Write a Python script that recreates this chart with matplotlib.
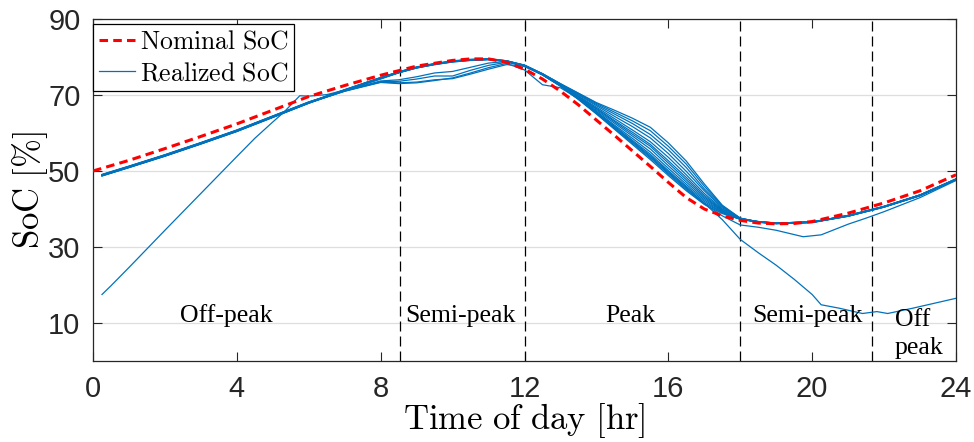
import matplotlib
matplotlib.use('Agg')
import matplotlib.pyplot as plt
from matplotlib.lines import Line2D

plt.rcParams['mathtext.fontset'] = 'cm'
plt.rcParams['font.family'] = ['Liberation Sans', 'DejaVu Sans']

# ---------------- data ----------------
hours_nom = [0, 1, 2, 3, 4, 5, 6, 7, 8, 9, 10, 10.5, 11, 11.5, 12, 12.5, 13, 13.5, 14, 14.5,
             15, 15.5, 16, 16.5, 17, 17.5, 18, 18.5, 19, 19.5, 20, 21, 22, 23, 24]
soc_nom = [50.0, 52.8, 55.9, 59.1, 62.4, 66.0, 69.6, 72.5, 75.2, 77.6, 79.1, 79.5, 79.5, 78.6, 76.8,
           74.2, 71.0, 67.4, 63.4, 59.4, 55.3, 51.2, 47.0, 43.0, 40.0, 38.2, 37.0, 36.3, 36.1, 36.2,
           36.7, 38.9, 41.6, 44.8, 49.0]

hours = [0.25, 1, 2, 3, 4, 5, 6, 7, 8, 8.5, 9, 9.5, 10, 10.5, 11, 11.5, 12, 12.5, 13, 13.5, 14,
         14.5, 15, 15.5, 16, 16.5, 17, 17.5, 18, 18.5, 19, 20, 21, 22, 23, 24]

run_a = [48.7, 50.9, 53.9, 57.1, 60.4, 64.1, 67.9, 71.1, 74.2, 75.8, 77.1, 78.0, 78.7, 79.1, 79.3, 78.8, 77.5,
         75.3, 72.3, 68.8, 65.0, 61.0, 57.0, 53.0, 48.8, 44.8, 41.2, 38.8, 37.3, 36.6, 36.2, 36.5, 38.1, 40.5, 43.5, 47.7]
run_b = [48.9, 51.1, 54.1, 57.3, 60.6, 64.3, 68.0, 71.2, 74.3, 75.9, 77.2, 78.1, 78.8, 79.2, 79.4, 78.9, 77.7,
         75.3, 72.4, 68.9, 65.3, 61.4, 57.6, 53.7, 49.5, 45.4, 41.6, 39.0, 37.3, 36.5, 36.2, 36.5, 38.2, 40.6, 43.6, 47.8]
run_c = [49.1, 51.3, 54.3, 57.5, 60.8, 64.5, 68.2, 71.1, 73.4, 73.2, 73.4, 74.0, 74.3, 75.5, 76.8, 78.0, 77.6,
         75.3, 72.4, 69.1, 65.5, 61.8, 58.1, 54.4, 50.1, 46.0, 42.0, 39.1, 37.3, 36.7, 36.3, 36.6, 38.3, 40.7, 43.7, 47.9]
run_d = [48.8, 51.0, 54.0, 57.2, 60.5, 64.2, 67.9, 71.3, 74.5, 76.0, 77.3, 78.2, 78.9, 79.3, 79.5, 79.0, 77.8,
         75.4, 72.5, 69.2, 65.7, 62.1, 58.6, 55.0, 50.7, 46.5, 42.4, 39.3, 37.4, 36.6, 36.3, 36.6, 38.2, 40.6, 43.7, 47.9]
run_e = [49.0, 51.2, 54.2, 57.4, 60.7, 64.4, 68.1, 71.4, 74.6, 76.1, 77.3, 78.2, 78.9, 79.3, 79.4, 78.9, 77.7,
         75.4, 72.5, 69.3, 66.0, 62.6, 59.2, 55.8, 51.4, 47.1, 42.8, 39.5, 37.4, 36.5, 36.1, 36.4, 38.1, 40.5, 43.5, 47.7]
run_f = [48.8, 51.0, 54.0, 57.2, 60.5, 64.2, 67.9, 71.0, 73.5, 73.6, 74.2, 75.0, 75.0, 76.5, 77.8, 78.6, 77.7,
         75.4, 72.6, 69.4, 66.3, 63.0, 59.7, 56.5, 52.1, 47.7, 43.2, 39.6, 37.4, 36.7, 36.3, 36.6, 38.3, 40.7, 43.7, 47.9]
run_g = [48.9, 51.1, 54.1, 57.3, 60.6, 64.3, 68.0, 71.3, 74.4, 75.9, 77.2, 78.1, 78.8, 79.2, 79.4, 78.9, 77.6,
         75.5, 72.6, 69.6, 66.5, 63.3, 60.2, 57.0, 52.7, 48.3, 43.6, 39.8, 37.4, 36.6, 36.2, 36.5, 38.2, 40.6, 43.6, 47.8]
run_h = [49.0, 51.2, 54.2, 57.4, 60.7, 64.4, 68.1, 71.2, 73.7, 74.0, 74.8, 75.8, 76.2, 77.3, 78.4, 78.8, 77.8,
         75.5, 72.7, 69.7, 66.8, 63.8, 60.8, 57.7, 53.6, 49.0, 44.1, 40.0, 37.5, 36.6, 36.2, 36.5, 38.2, 40.6, 43.6, 47.8]
run_i = [48.7, 50.9, 53.9, 57.1, 60.4, 64.1, 67.8, 71.2, 74.4, 75.9, 77.1, 78.0, 78.7, 79.1, 79.3, 78.9, 77.7,
         75.5, 72.8, 70.0, 67.2, 64.4, 61.7, 58.7, 54.6, 49.9, 44.8, 40.3, 37.5, 36.7, 36.3, 36.6, 38.3, 40.7, 43.7, 47.9]
run_j = [48.9, 51.1, 54.1, 57.3, 60.6, 64.3, 68.0, 71.4, 74.6, 76.1, 77.4, 78.3, 79.0, 79.4, 79.5, 79.0, 77.8,
         75.6, 72.9, 70.2, 67.5, 65.0, 62.5, 59.6, 55.6, 50.9, 45.3, 40.6, 37.5, 36.6, 36.2, 36.5, 38.2, 40.6, 43.6, 47.8]
run_k = [49.0, 51.2, 54.2, 57.4, 60.7, 64.4, 68.1, 71.3, 74.5, 76.0, 77.2, 78.1, 78.8, 79.2, 79.4, 78.9, 77.8,
         75.6, 72.9, 70.4, 67.8, 65.5, 63.2, 60.6, 56.5, 51.8, 46.0, 40.8, 37.6, 36.6, 36.2, 36.5, 38.1, 40.5, 43.5, 47.7]
run_l = [48.8, 51.0, 54.0, 57.2, 60.5, 64.2, 67.9, 71.2, 74.4, 75.9, 77.2, 78.1, 78.8, 79.2, 79.4, 79.0, 77.9,
         75.6, 73.0, 70.5, 68.0, 66.0, 63.9, 61.5, 57.4, 52.6, 46.6, 41.0, 37.6, 36.6, 36.3, 36.6, 38.2, 40.6, 43.6, 47.8]

hours_m = [0.25, 1, 2, 3, 4, 5, 6, 7, 8, 8.5, 9, 9.5, 10, 10.5, 11, 11.5, 12, 12.5, 13, 13.5, 14, 14.5,
           15, 15.5, 16, 16.5, 17, 17.5, 18, 18.5, 19, 19.75, 20.25, 21, 21.5, 22, 23, 24]
run_m = [48.9, 51.1, 54.1, 57.3, 60.6, 64.3, 68.0, 71.0, 73.3, 73.0, 73.2, 73.8, 74.5, 75.8, 77.2, 78.3, 76.6,
         72.7, 71.9, 69.0, 65.1, 61.2, 57.3, 53.4, 49.2, 45.1, 41.4, 38.2, 35.8, 35.2, 34.4, 32.7, 33.2, 36.0,
         37.6, 39.3, 43.0, 47.5]

hours_o = [0.25, 0.5, 1, 2, 3, 4, 4.5, 5, 5.3, 5.75, 6, 6.5, 7, 8, 8.5, 9, 9.5, 10, 10.5, 11, 11.5, 12,
           12.5, 13, 13.5, 14, 14.5, 15, 15.5, 16, 16.5, 17, 17.5, 18, 18.5, 19, 19.5, 20, 20.25, 20.75,
           21.4, 21.8, 22.1, 22.8, 23.4, 24]
run_o = [17.5, 19.8, 24.6, 34.4, 44.1, 53.8, 58.6, 62.9, 65.4, 69.8, 69.7, 70.1, 71.3, 74.5, 76.0, 77.3, 78.2,
         78.9, 79.3, 79.5, 79.0, 77.7, 75.3, 72.4, 69.0, 65.4, 61.6, 57.8, 54.0, 49.8, 45.7, 41.5, 37.2, 32.0,
         28.5, 25.2, 21.5, 17.5, 14.8, 13.9, 12.5, 13.0, 12.5, 13.9, 15.2, 16.5]

cluster_runs = [run_a, run_b, run_c, run_d, run_e, run_f, run_g, run_h, run_i, run_j, run_k, run_l]

period_bounds = [8.55, 12, 18, 21.67]
period_labels = ['Off-peak', 'Semi-peak', 'Peak', 'Semi-peak']
period_label_x = [3.7, 10.23, 14.93, 19.86]
last_label = 'Off\npeak'
last_label_x = 22.3

x_ticks = [0, 4, 8, 12, 16, 20, 24]
y_ticks = [10, 30, 50, 70, 90]

# ---------------- plot ----------------
BLUE = '#0072BD'
fig = plt.figure(figsize=(9.74, 4.42), dpi=100)
ax = fig.add_axes([93 / 974, 81 / 442, 863 / 974, 342 / 442])

for r in cluster_runs:
    ax.plot(hours, r, color=BLUE, lw=0.9, zorder=2)
ax.plot(hours_m, run_m, color=BLUE, lw=0.9, zorder=2)
ax.plot(hours_o, run_o, color=BLUE, lw=0.9, zorder=2)

ax.plot(hours_nom, soc_nom, color='red', lw=2.2, dashes=(2.8, 1.7), zorder=3)

for b in period_bounds:
    ax.axvline(b, color='k', lw=0.9, ls=(0, (8, 4)), zorder=1)

for lx, lab in zip(period_label_x, period_labels):
    ax.text(lx, 10.3, lab, ha='center', va='baseline', fontsize=18.5,
            family='Liberation Serif', zorder=4)
ax.text(last_label_x, 13.6, last_label, ha='left', va='top', fontsize=18.5,
        family='Liberation Serif', linespacing=1.35, zorder=4)

ax.set_xlim(0, 24)
ax.set_ylim(0, 90)
ax.set_xticks(x_ticks)
ax.set_yticks(y_ticks)
ax.yaxis.grid(True, color='#dedede', lw=0.9)
ax.set_axisbelow(True)
ax.tick_params(direction='in', length=6.5, width=0.8, top=True, right=True,
               labelsize=21, colors='#262626')
ax.tick_params(axis='x', pad=10)
ax.tick_params(axis='y', pad=9)
for s in ax.spines.values():
    s.set_color('#262626')
    s.set_linewidth(0.9)

ax.set_xlabel(r'$\mathrm{Time\ of\ day\ [hr]}$', fontsize=25, labelpad=-1)
ax.set_ylabel(r'$\mathrm{SoC\ [\%]}$', fontsize=25, labelpad=-1)

handles = [Line2D([], [], color='red', lw=2.2, dashes=(2.8, 1.7)),
           Line2D([], [], color=BLUE, lw=0.9)]
leg = ax.legend(handles, [r'$\mathrm{Nominal\ SoC}$', r'$\mathrm{Realized\ SoC}$'],
                loc='upper left', bbox_to_anchor=(0, 1 - 5 / 342), borderaxespad=0,
                fontsize=18.5, handlelength=1.4, handletextpad=0.2, borderpad=0.22,
                labelspacing=0.3, fancybox=False, framealpha=1, edgecolor='k')
leg.get_frame().set_linewidth(0.9)

fig.savefig('out.png', dpi=100)
